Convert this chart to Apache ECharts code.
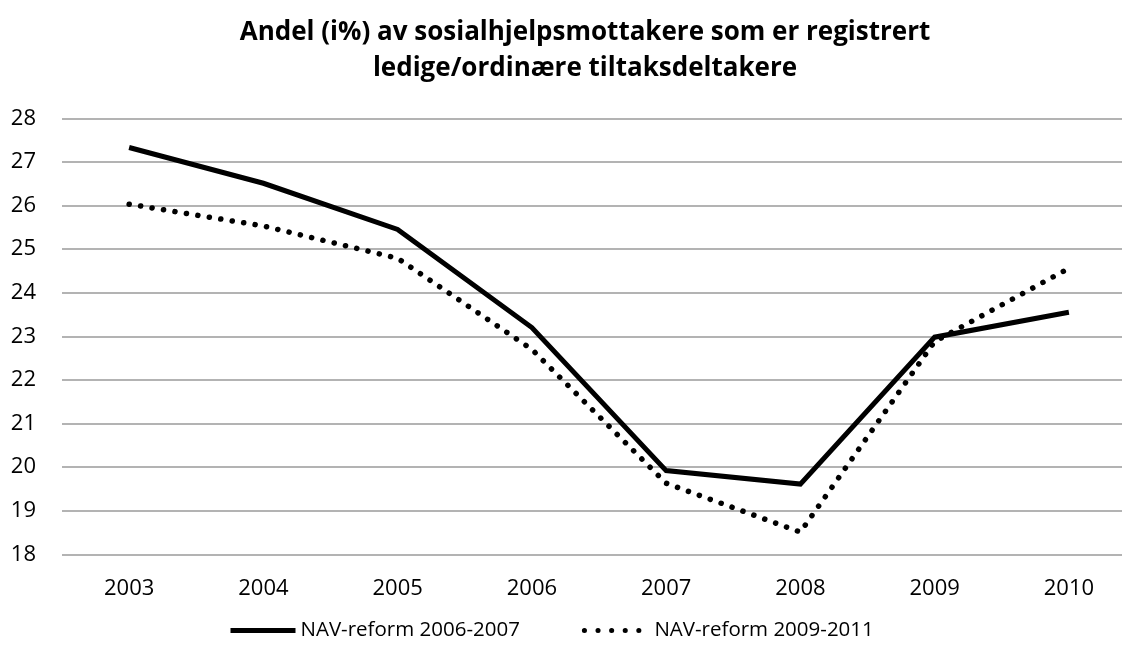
<!DOCTYPE html>
<html>
<head>
<meta charset="utf-8">
<script src="https://cdn.jsdelivr.net/npm/echarts@6/dist/echarts.min.js"></script>
<style>
  html, body { margin: 0; padding: 0; background: #fff; }
  #chart { width: 1122px; height: 655px; }
</style>
</head>
<body>
<div id="chart"></div>
<script>
// data
const years = ["2003", "2004", "2005", "2006", "2007", "2008", "2009", "2010"];
const reform0607 = [27.33, 26.51, 25.45, 23.2, 19.92, 19.61, 22.98, 23.55];
const reform0911 = [26.03, 25.53, 24.79, 22.7, 19.63, 18.51, 22.88, 24.56];
const yTicks = { min: 18, max: 28, step: 1 };

const chart = echarts.init(document.getElementById("chart"));
const font = "'Open Sans', 'DejaVu Sans', sans-serif";

const solidLine = { color: "#000", width: 5, join: "miter" };
const dottedLine = { color: "#000", width: 5.5, type: [0.1, 11.5], cap: "round" };
// legend icon: about six dots across the sample
const dottedLegend = { color: "#000", width: 5, type: [0.1, 13.5], cap: "round" };

const option = {
  backgroundColor: "#fff",
  animation: false,
  title: {
    text: "Andel (i%) av sosialhjelpsmottakere som er registrert\nledige/ordinære tiltaksdeltakere",
    left: 580,
    top: 10,
    textAlign: "center",
    textStyle: {
      fontFamily: font,
      fontWeight: "bold",
      fontSize: 26,
      lineHeight: 36,
      color: "#000",
    },
  },
  legend: {
    left: 228,
    top: 620,
    padding: 0,
    itemWidth: 65,
    itemHeight: 14,
    itemGap: 62,
    itemStyle: { opacity: 0 },
    textStyle: { fontFamily: font, fontSize: 20.5, color: "#000" },
    data: [
      { name: "NAV-reform 2006-2007", lineStyle: solidLine },
      { name: "NAV-reform 2009-2011", lineStyle: dottedLegend },
    ],
  },
  grid: {
    left: 62,
    top: 118.3,
    width: 1074,
    bottom: 100.7,
    containLabel: false,
    outerBoundsMode: "none",
  },
  xAxis: {
    type: "category",
    data: years,
    boundaryGap: true,
    axisLine: { show: false },
    axisTick: { show: false },
    axisLabel: { fontFamily: font, fontSize: 22, color: "#000", margin: 23 },
  },
  yAxis: {
    type: "value",
    min: yTicks.min,
    max: yTicks.max,
    interval: yTicks.step,
    axisLine: { show: false },
    axisTick: { show: false },
    axisLabel: { fontFamily: font, fontSize: 22, color: "#000", margin: 26 },
    splitLine: { lineStyle: { color: "#9a9a9a", width: 1.5 } },
  },
  series: [
    {
      name: "NAV-reform 2006-2007",
      type: "line",
      data: reform0607,
      symbol: "none",
      lineStyle: solidLine,
      itemStyle: { color: "#000" },
    },
    {
      name: "NAV-reform 2009-2011",
      type: "line",
      data: reform0911,
      symbol: "none",
      lineStyle: dottedLine,
      itemStyle: { color: "#000" },
    },
  ],
};

chart.setOption(option);
</script>
</body>
</html>
